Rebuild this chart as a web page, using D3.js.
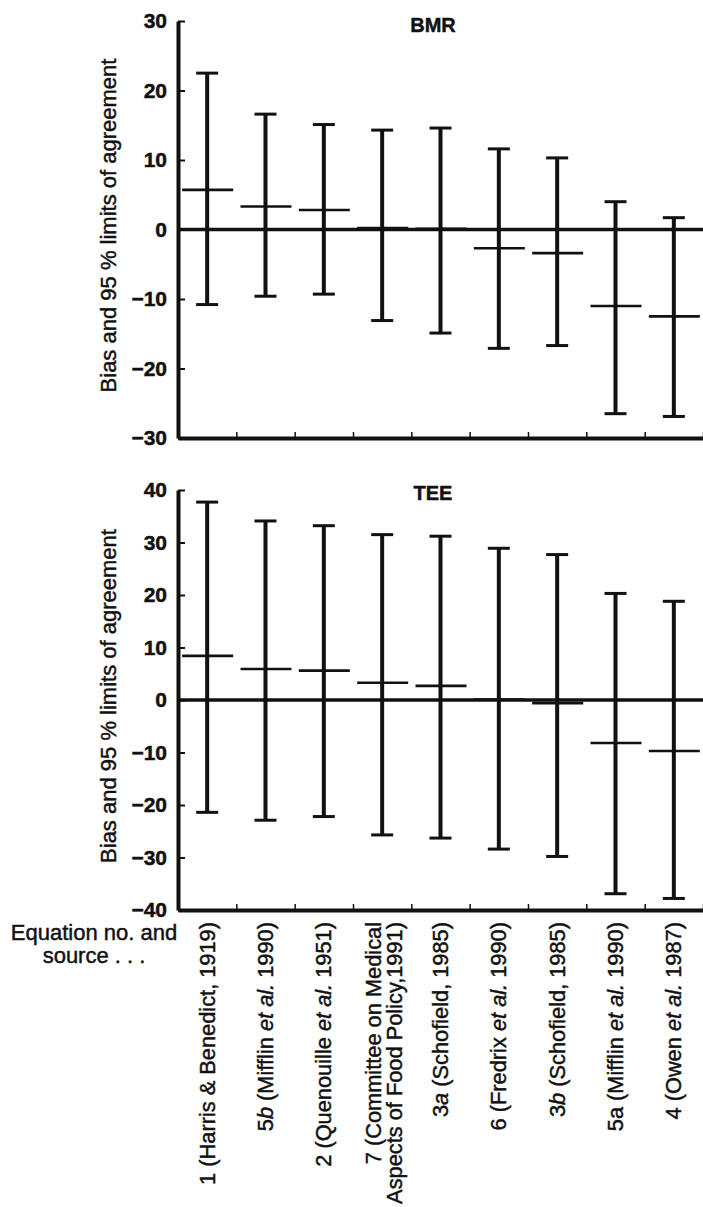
<!DOCTYPE html>
<html>
<head>
<meta charset="utf-8">
<script src="https://cdn.jsdelivr.net/npm/d3@7"></script>
<style>
	body { margin:0; background:#fff; }
	svg { display:block; font-family:"Liberation Sans", Arial, sans-serif; }
	svg text { stroke:#111; stroke-width:0.45px; }
</style>
</head>
<body>
<div id="chart"></div>
<script>

// equation labels, <i> marks italic, \n breaks a line
const categories=[
	"1 (Harris & Benedict, 1919)",
	"5<i>b</i> (Mifflin <i>et al.</i> 1990)",
	"2 (Quenouille <i>et al.</i> 1951)",
	"7 (Committee on Medical\nAspects of Food Policy,1991)",
	"3<i>a</i> (Schofield, 1985)",
	"6 (Fredrix <i>et al.</i> 1990)",
	"3<i>b</i> (Schofield, 1985)",
	"5a (Mifflin <i>et al.</i> 1990)",
	"4 (Owen <i>et al.</i> 1987)"
];

// BMR : bias, lower and upper 95 % limits
const bmrBias =[5.7, 3.3, 2.8, 0.2, 0.1, -2.7, -3.4, -11.0, -12.5];
const bmrLower=[-10.8, -9.6, -9.3, -13.1, -14.9, -17.1, -16.7, -26.5, -26.9];
const bmrUpper=[22.5, 16.6, 15.1, 14.3, 14.6, 11.6, 10.3, 4.0, 1.7];

// TEE
const teeBias =[8.4, 5.9, 5.6, 3.3, 2.7, 0.1, -0.6, -8.2, -9.7];
const teeLower=[-21.4, -22.9, -22.2, -25.7, -26.3, -28.4, -29.8, -36.9, -37.8];
const teeUpper=[37.7, 34.1, 33.2, 31.5, 31.2, 28.9, 27.7, 20.3, 18.8];

const bmrTicks=[30, 20, 10, 0, -10, -20, -30];
const teeTicks=[40, 30, 20, 10, 0, -10, -20, -30, -40];

const width=703, height=1207;
const left=178, right=703;

const svg=d3.select("#chart").append("svg")
	.attr("width",width)
	.attr("height",height);

const x=d3.scaleBand()
	.domain(categories.map((d,i)=>i))
	.range([left,right])
	.padding(0);

// same range, used for the little ticks between the equations
const xEdge=d3.scaleLinear()
	.domain([0,categories.length])
	.range([left,right]);

function fmt(v) {
	return v<0 ? "\u2212"+Math.abs(v) : ""+v;
}

function panel(title,bias,lower,upper,ticks,top,bottom,titleY) {

	let y=d3.scaleLinear()
		.domain([d3.min(ticks),d3.max(ticks)])
		.range([bottom,top]);

	let g=svg.append("g");

	// x axis with small upward ticks
	let xa=g.append("g")
		.attr("transform","translate(0,"+bottom+")")
		.call(d3.axisBottom(xEdge)
			.tickValues(categories.map((d,i)=>i+1))
			.tickSizeInner(-6)
			.tickSizeOuter(0)
			.tickFormat(""));
	xa.select(".domain").attr("stroke","#111").attr("stroke-width",4);
	xa.selectAll(".tick line").attr("stroke","#111").attr("stroke-width",1.5);

	// y axis, ticks pointing inwards
	let ya=g.append("g")
		.attr("transform","translate("+left+",0)")
		.call(d3.axisLeft(y)
			.tickValues(ticks)
			.tickSizeInner(-7)
			.tickSizeOuter(0)
			.tickPadding(11)
			.tickFormat(fmt));
	ya.select(".domain").attr("stroke","#111").attr("stroke-width",4);
	ya.selectAll(".tick line").attr("stroke","#111").attr("stroke-width",2);
	ya.selectAll(".tick text")
		.attr("fill","#111")
		.attr("font-size",21)
		.attr("font-weight","bold")
		.attr("font-family","'Liberation Sans', Arial, sans-serif");

	// zero line
	g.append("line")
		.attr("x1",left)
		.attr("x2",right)
		.attr("y1",y(0))
		.attr("y2",y(0))
		.attr("stroke","#111")
		.attr("stroke-width",3.4);

	let cx=i=>x(i)+x.bandwidth()/2;

	let bars=g.selectAll(".bar")
		.data(categories.map((d,i)=>i))
		.enter().append("g")
		.attr("class","bar");

	bars.append("line")
		.attr("x1",cx).attr("x2",cx)
		.attr("y1",i=>y(upper[i]))
		.attr("y2",i=>y(lower[i]))
		.attr("stroke","#111")
		.attr("stroke-width",4);

	bars.append("line")
		.attr("x1",i=>cx(i)-11).attr("x2",i=>cx(i)+11)
		.attr("y1",i=>y(upper[i])).attr("y2",i=>y(upper[i]))
		.attr("stroke","#111")
		.attr("stroke-width",3);

	bars.append("line")
		.attr("x1",i=>cx(i)-11).attr("x2",i=>cx(i)+11)
		.attr("y1",i=>y(lower[i])).attr("y2",i=>y(lower[i]))
		.attr("stroke","#111")
		.attr("stroke-width",3);

	bars.append("line")
		.attr("x1",i=>cx(i)-25).attr("x2",i=>cx(i)+26)
		.attr("y1",i=>y(bias[i])).attr("y2",i=>y(bias[i]))
		.attr("stroke","#111")
		.attr("stroke-width",2.6);

	// panel title
	g.append("text")
		.attr("x",433)
		.attr("y",titleY)
		.attr("text-anchor","middle")
		.attr("font-size",20)
		.attr("font-weight","bold")
		.attr("fill","#111")
		.text(title);

	// y title
	g.append("text")
		.attr("transform","translate(116,"+((top+bottom)/2-4)+") rotate(-90)")
		.attr("text-anchor","middle")
		.attr("font-size",22)
		.attr("fill","#111")
		.text("Bias and 95 % limits of agreement");

	return y;
}

panel("BMR",bmrBias,bmrLower,bmrUpper,bmrTicks,21,438,32);
panel("TEE",teeBias,teeLower,teeUpper,teeTicks,490,910,500);

// equation labels below the lower panel
function addParts(text,str) {
	let parts=str.split(/(<i>.*?<\/i>)/).filter(s=>s.length);
	parts.forEach(p=>{
		let it=p.startsWith("<i>");
		text.append("tspan")
			.attr("font-style",it ? "italic" : "normal")
			.text(it ? p.slice(3,-4) : p);
	});
}

categories.forEach((c,i)=>{
	let lines=c.split("\n");
	let cx=x(i)+x.bandwidth()/2;
	let off=lines.length>1 ? -9 : 0;
	lines.forEach((ln,k)=>{
		let t=svg.append("text")
			.attr("transform","translate("+(cx+off+k*21)+",922) rotate(-90)")
			.attr("text-anchor","end")
			.attr("dy","0.35em")
			.attr("font-size",21.8)
			.attr("fill","#111");
		addParts(t,ln);
	});
});

svg.append("text")
	.attr("x",94)
	.attr("y",940)
	.attr("text-anchor","middle")
	.attr("font-size",22)
	.attr("fill","#111")
	.text("Equation no. and");

svg.append("text")
	.attr("x",94)
	.attr("y",963)
	.attr("text-anchor","middle")
	.attr("font-size",22)
	.attr("fill","#111")
	.text("source . . .");

</script>
</body>
</html>
